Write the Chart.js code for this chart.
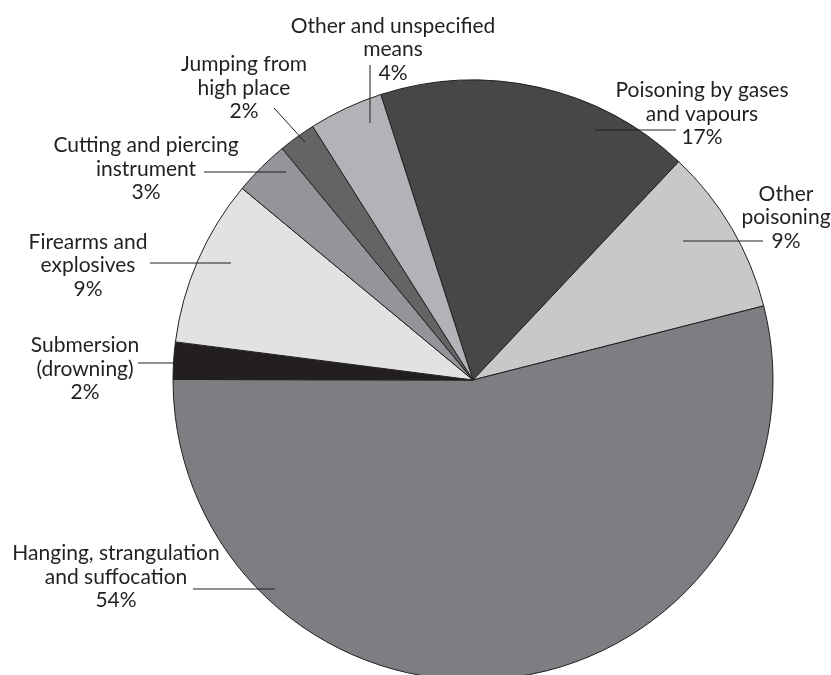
<!DOCTYPE html>
<html><head><meta charset="utf-8">
<script src="https://cdn.jsdelivr.net/npm/chart.js@4"></script>
<style>html,body{margin:0;padding:0;background:#fff}#wrap{width:831px;height:675px;position:relative}</style>
</head><body><div id="wrap"><canvas id="c"></canvas></div>
<script>
// ---- data ----
const categories = [
  ["Poisoning by gases", "and vapours"],
  ["Other", "poisoning"],
  ["Hanging, strangulation", "and suffocation"],
  ["Submersion", "(drowning)"],
  ["Firearms and", "explosives"],
  ["Cutting and piercing", "instrument"],
  ["Jumping from", "high place"],
  ["Other and unspecified", "means"]
];
const shares = [17, 9, 54, 2, 9, 3, 2, 4];

// ---- styles ----
const sliceColors = ["#464749", "#c7c8ca", "#7d7e82", "#231f20", "#e1e2e3", "#939598", "#636466", "#b1b3b6"];
const inkColor = "#231f20";
const startAngle = -17.9; // degrees clockwise from top
// label layout, in units of pie radius relative to pie centre:
// text: [x centre, first baseline]; line: [x1, y1, x2, y2]
const labelLayout = [
  {text: [0.7633, -0.9433], line: [0.4067, -0.8333, 0.6767, -0.8333]},
  {text: [1.0433, -0.5967], line: [0.70, -0.4633, 0.9667, -0.4633]},
  {text: [-1.19, 0.60], line: [-0.9333, 0.6967, -0.66, 0.6967]},
  {text: [-1.2933, -0.0933], line: [-1.1167, -0.0567, -1.0, -0.0567]},
  {text: [-1.2833, -0.4367], line: [-1.0767, -0.39, -0.8067, -0.39]},
  {text: [-1.09, -0.76], line: [-0.8967, -0.6933, -0.6233, -0.6933]},
  {text: [-0.7633, -1.03], line: [-0.6633, -0.9067, -0.56, -0.7933]},
  {text: [-0.2667, -1.1567], line: [-0.3433, -1.05, -0.3433, -0.8567]}
];
const labelFont = "21px Lato";
const lineHeight = 23.5;

const outerLabels = {
  id: 'outerLabels',
  afterDatasetsDraw(chart) {
    const ctx = chart.ctx;
    const meta = chart.getDatasetMeta(0);
    ctx.save();
    ctx.strokeStyle = inkColor;
    ctx.fillStyle = inkColor;
    ctx.lineWidth = 1;
    ctx.font = labelFont;
    ctx.textAlign = 'center';
    ctx.textBaseline = 'alphabetic';
    meta.data.forEach((arc, i) => {
      const cx = arc.x, cy = arc.y, r = arc.outerRadius;
      const L = labelLayout[i];
      ctx.beginPath();
      ctx.moveTo(cx + L.line[0] * r, cy + L.line[1] * r);
      ctx.lineTo(cx + L.line[2] * r, cy + L.line[3] * r);
      ctx.stroke();
      const lines = categories[i].concat([shares[i] + '%']);
      lines.forEach((t, k) => {
        ctx.fillText(t, cx + L.text[0] * r, cy + L.text[1] * r + k * lineHeight);
      });
    });
    ctx.restore();
  }
};

new Chart(document.getElementById('c'), {
  type: 'pie',
  data: {
    labels: categories.map(c => c.join(' ')),
    datasets: [{
      data: shares,
      backgroundColor: sliceColors,
      borderColor: inkColor,
      borderWidth: 1,
      radius: 300,
      clip: false
    }]
  },
  options: {
    responsive: true,
    maintainAspectRatio: false,
    animation: false,
    rotation: startAngle,
    layout: {padding: {left: 146, right: 31, top: 85, bottom: 0}},
    plugins: {legend: {display: false}, tooltip: {enabled: false}},
    events: []
  },
  plugins: [outerLabels]
});
</script>
</body></html>
